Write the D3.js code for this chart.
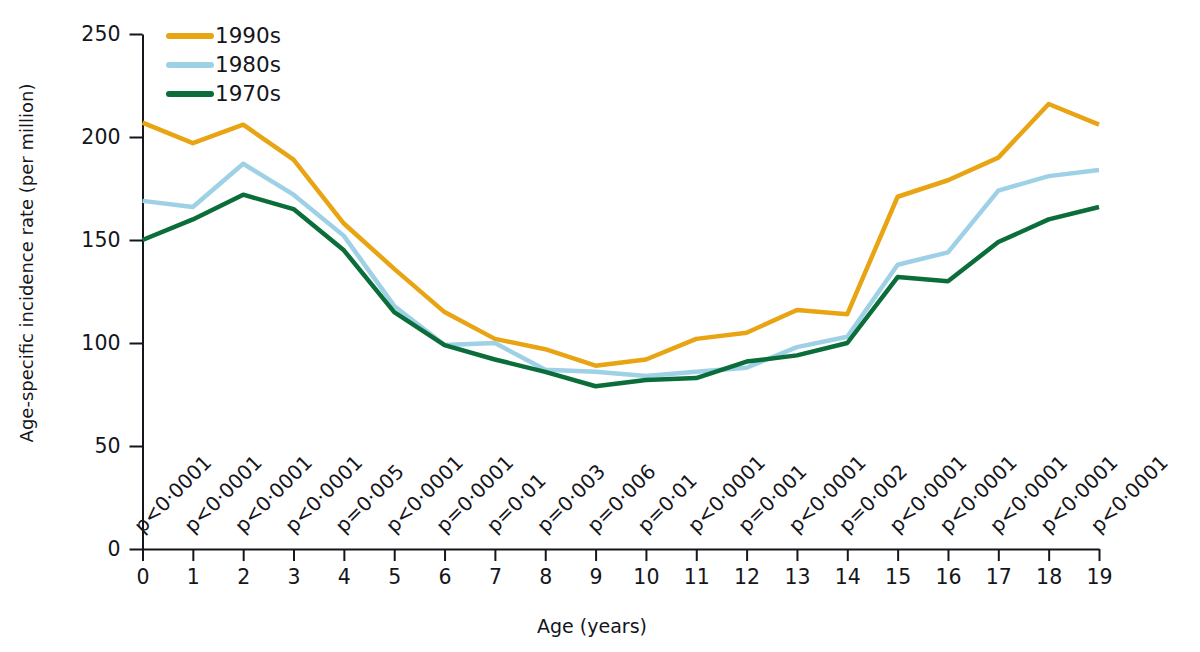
<!DOCTYPE html>
<html>
<head>
<meta charset="utf-8">
<script src="https://cdn.jsdelivr.net/npm/d3@7/dist/d3.min.js"></script>
<style>
  html, body { margin: 0; padding: 0; background: #fff; }
  svg { display: block; }
  text { font-family: "DejaVu Sans", sans-serif; fill: #15151c; }
</style>
</head>
<body>
<svg id="chart" width="1200" height="652"></svg>
<script>
const ages = [0,1,2,3,4,5,6,7,8,9,10,11,12,13,14,15,16,17,18,19];
const rate1990s = [207,197,206,189,158,136,115,102,97,89,92,102,105,116,114,171,179,190,216,206];
const rate1980s = [169,166,187,172,152,118,99,100,87,86,84,86,88,98,103,138,144,174,181,184];
const rate1970s = [150,160,172,165,145,115,99,92,86,79,82,83,91,94,100,132,130,149,160,166];
const pValues = ["p<0·0001","p<0·0001","p<0·0001","p<0·0001","p=0·005","p<0·0001","p=0·0001","p=0·01","p=0·003","p=0·006",
                 "p=0·01","p<0·0001","p=0·001","p<0·0001","p=0·002","p<0·0001","p<0·0001","p<0·0001","p<0·0001","p<0·0001"];
const yTicks = [0,50,100,150,200,250];
const seriesNames = ["1990s","1980s","1970s"];
const seriesColors = ["#E8A412","#9ED0E6","#0B6E3A"];
const seriesValues = [rate1990s, rate1980s, rate1970s];

const svg = d3.select("#chart");
const x = d3.scaleLinear().domain([0,19]).range([142.5,1099]);
const y = d3.scaleLinear().domain([0,250]).range([549,34]);
const ink = "#15151c";

// Y axis
const yAxis = svg.append("g")
  .attr("transform", `translate(${x(0)},0)`)
  .call(d3.axisLeft(y).tickValues(yTicks).tickSize(13).tickPadding(9).tickSizeOuter(0));
yAxis.select(".domain").attr("stroke", ink).attr("stroke-width", 2);
yAxis.selectAll(".tick line").attr("stroke", ink).attr("stroke-width", 2);
yAxis.selectAll(".tick text").attr("font-size", 20.5).attr("font-family", "DejaVu Sans").attr("fill", ink);

// X axis
const xAxis = svg.append("g")
  .attr("transform", `translate(0,${y(0)})`)
  .call(d3.axisBottom(x).tickValues(ages).tickFormat(d3.format("d")).tickSize(12).tickPadding(8).tickSizeOuter(0));
xAxis.select(".domain").attr("stroke", ink).attr("stroke-width", 2);
xAxis.selectAll(".tick line").attr("stroke", ink).attr("stroke-width", 2);
xAxis.selectAll(".tick text").attr("font-size", 20.5).attr("font-family", "DejaVu Sans").attr("fill", ink);

// Lines
const line = d3.line().x((d,i) => x(ages[i])).y(d => y(d));
seriesValues.forEach((vals, k) => {
  svg.append("path")
    .datum(vals)
    .attr("d", line)
    .attr("fill", "none")
    .attr("stroke", seriesColors[k])
    .attr("stroke-width", 4.5)
    .attr("stroke-linejoin", "round");
});

// p-value labels
svg.append("g").selectAll("text")
  .data(pValues)
  .join("text")
  .attr("transform", (d,i) => `translate(${x(ages[i])},${y(0) - 15}) rotate(-45)`)
  .attr("font-size", 20)
  .attr("text-anchor", "start")
  .text(d => d);

// Legend
const legend = svg.append("g");
seriesNames.forEach((name, k) => {
  const ly = 36 + k * 29;
  legend.append("line")
    .attr("x1", 169).attr("x2", 211).attr("y1", ly).attr("y2", ly)
    .attr("stroke", seriesColors[k]).attr("stroke-width", 6).attr("stroke-linecap", "round");
  legend.append("text")
    .attr("x", 215).attr("y", ly + 7)
    .attr("font-size", 21.5)
    .text(name);
});

// Axis titles
svg.append("text")
  .attr("x", 592).attr("y", 633)
  .attr("text-anchor", "middle")
  .attr("font-size", 19)
  .text("Age (years)");

svg.append("text")
  .attr("transform", "translate(33,263) rotate(-90)")
  .attr("text-anchor", "middle")
  .attr("font-size", 18)
  .text("Age-specific incidence rate (per million)");
</script>
</body>
</html>
